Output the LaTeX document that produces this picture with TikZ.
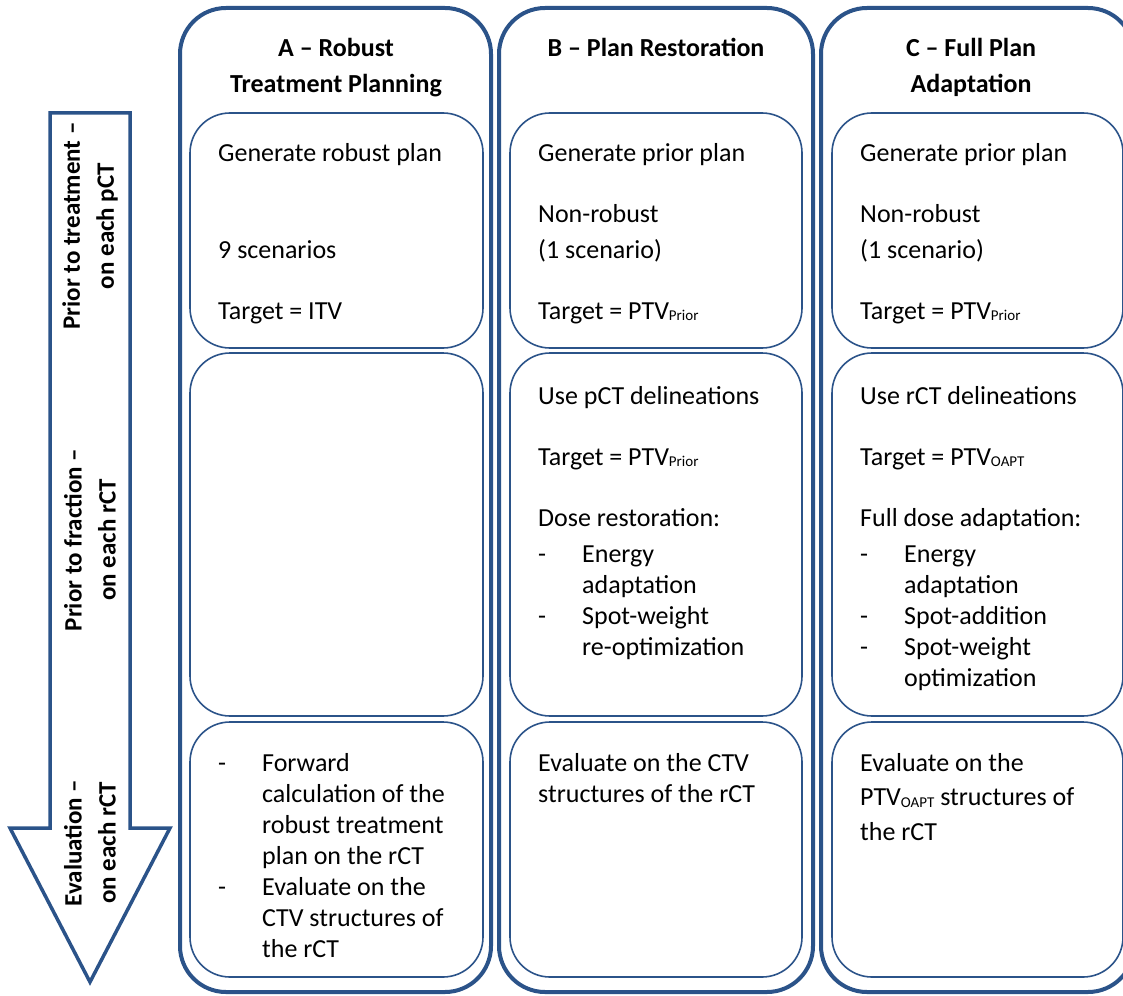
\documentclass[tikz,border=0pt]{standalone}
\usepackage{fontspec}
\setmainfont{Carlito}
\usetikzlibrary{positioning}

\definecolor{frameblue}{HTML}{2B5389}
\newcommand{\lowidx}[1]{\raisebox{-1.5pt}{\fontsize{15}{15}\selectfont #1}}
\newcommand{\dashlist}[1]{\begin{tabular}[t]{@{}p{44pt}@{}l@{}}#1\end{tabular}}

\begin{document}
\begin{tikzpicture}[x=1pt, y=-1pt, line join=miter,
    every node/.style={inner sep=0pt},
    colframe/.style={draw=frameblue, line width=4pt, rounded corners=46pt, minimum height=984pt},
    cell/.style={draw=frameblue, line width=1.6pt, rounded corners=40pt},
    body/.style={anchor=base west, align=left, font=\fontsize{26}{36}\selectfont},
    tight/.style={font=\fontsize{26}{31}\selectfont},
    coltitle/.style={anchor=base, align=center, font=\fontsize{26}{36}\selectfont\bfseries},
    sidelabel/.style={rotate=90, align=center, font=\fontsize{25}{34}\selectfont\bfseries}]
    \useasboundingbox (0,0) rectangle (1123,995);
    \clip (0,0) rectangle (1123,995);

    % time arrow on the left
    \draw[draw=frameblue, line width=3.5pt] (50,113) -- (130,113) -- (130,828) -- (170,828)
        -- (90,982) -- (10,828) -- (50,828) -- cycle;
    \node[sidelabel] (lblpct) at (90,226) {Prior to treatment --\\on each pCT};
    \node[sidelabel] (lblfrac) at (90,540) {Prior to fraction --\\on each rCT};
    \node[sidelabel] (lbleval) at (90,843) {Evaluation --\\on each rCT};

    % columns
    \node[colframe, minimum width=311pt] (colA) at (335.5,500) {};
    \node[colframe, minimum width=314pt] (colB) at (656,500) {};
    \node[colframe, minimum width=313pt] (colC) at (977.5,500) {};

    % titles (base = last line)
    \node[coltitle] (titleA) at (336,93) {A -- Robust\\Treatment Planning};
    \node[coltitle] (titleB) at (656,57) {B -- Plan Restoration};
    \node[coltitle] (titleC) at (971,93) {C -- Full Plan\\Adaptation};

    % cells, three rows per column
    \foreach \col/\cx/\w in {A/336.5/293, B/656/292, C/977.5/291} {
        \node[cell, minimum width=\w pt, minimum height=235pt] (plan\col) at (\cx,230.5) {};
        \node[cell, minimum width=\w pt, minimum height=363pt] (frac\col) at (\cx,534.5) {};
        \node[cell, minimum width=\w pt, minimum height=255pt] (eval\col) at (\cx,849.5) {};
    }

    % A - robust treatment planning
    \node[body] (genA) at (218,161) {Generate robust plan};
    \node[body] (scenA) at (218,258) {9 scenarios};
    \node[body] (targA) at (218,319) {Target = ITV};
    \node[body, tight] (stepsA) at (218,771) {\dashlist{- & Forward\\ & calculation of the\\ & robust treatment\\ & plan on the rCT\\- & Evaluate on the\\ & CTV structures of\\ & the rCT}};

    % B - plan restoration
    \node[body] (genB) at (538,161) {Generate prior plan};
    \node[body] (scenB) at (538,258) {Non-robust\\(1 scenario)};
    \node[body] (targB) at (538,319) {Target = PTV\lowidx{Prior}};
    \node[body] (delB) at (538,404) {Use pCT delineations};
    \node[body] (targB2) at (538,465) {Target = PTV\lowidx{Prior}};
    \node[body] (doseB) at (538,526) {Dose restoration:};
    \node[body, tight] (listB) at (538,562) {\dashlist{- & Energy\\ & adaptation\\- & Spot-weight\\ & re-optimization}};
    \node[body, tight] (evB) at (538,802) {Evaluate on the CTV\\structures of the rCT};

    % C - full plan adaptation
    \node[body] (genC) at (860,161) {Generate prior plan};
    \node[body] (scenC) at (860,258) {Non-robust\\(1 scenario)};
    \node[body] (targC) at (860,319) {Target = PTV\lowidx{Prior}};
    \node[body] (delC) at (860,404) {Use rCT delineations};
    \node[body] (targC2) at (860,465) {Target = PTV\lowidx{OAPT}};
    \node[body] (doseC) at (860,526) {Full dose adaptation:};
    \node[body, tight] (listC) at (860,562) {\dashlist{- & Energy\\ & adaptation\\- & Spot-addition\\- & Spot-weight\\ & optimization}};
    \node[body, font=\fontsize{26}{34.5}\selectfont] (evC) at (860,840) {Evaluate on the\\PTV\lowidx{OAPT} structures of\\the rCT};
\end{tikzpicture}
\end{document}
